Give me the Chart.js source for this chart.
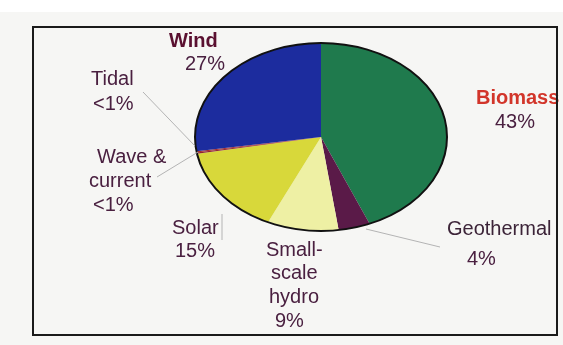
<!DOCTYPE html>
<html>
<head>
<meta charset="utf-8">
<script src="https://cdn.jsdelivr.net/npm/chart.js@4.4.1/dist/chart.umd.min.js"></script>
<style>
  html, body { margin: 0; padding: 0; background: #f6f6f4; }
  #wrap { width: 563px; height: 345px; }
</style>
</head>
<body>
<div id="wrap"><canvas id="pie" width="563" height="345"></canvas></div>
<script>
// Share of renewable sources, clockwise from 12 o'clock
const sources  = ['Biomass', 'Geothermal', 'Small-\nscale\nhydro', 'Solar', 'Wave &\ncurrent', 'Tidal', 'Wind'];
const shares   = [43, 4, 9, 15, 0.2, 0.2, 27];
const shareTxt = ['43%', '4%', '9%', '15%', '<1%', '<1%', '27%'];

const sliceColors = ['#1f7a4d', '#5a1a48', '#eef0a4', '#d8d83a', '#8e2434', '#a83030', '#1c2c9e'];

// where each label block sits (left x, middle y for every line)
const labelSpots = [
  [[476, 98], [495, 122]],
  [[447, 229], [467, 259]],
  [[266, 250], [271, 273], [269, 297], [275, 321]],
  [[172, 228], [175, 251]],
  [[97, 157], [89, 181], [93, 205]],
  [[91, 79], [93, 104]],
  [[169, 41], [185, 64]],
];
const labelColor = ['#d2352a', '#3c2438', '#4a2040', '#4a2040', '#4a2040', '#4a2040', '#5a1030'];
const labelBold  = [true, false, false, false, false, false, true];

// thin grey pointers from labels to the pie
const leaders = [
  [[143, 92], [195, 146]],
  [[157, 177], [198, 152]],
  [[222, 214], [222, 240]],
  [[366, 229], [440, 247]],
];

const X_STRETCH = 126 / 94;

const ellipsePie = {
  id: 'ellipsePie',
  beforeDraw(chart) {
    const ctx = chart.ctx;
    ctx.save();
    ctx.fillStyle = '#f6f6f4';
    ctx.fillRect(0, 0, chart.width, chart.height);
    ctx.fillStyle = '#ffffff';
    ctx.fillRect(0, 0, chart.width, 12);
    ctx.restore();
  },
  beforeDatasetsDraw(chart) {
    const arc = chart.getDatasetMeta(0).data[0];
    const ctx = chart.ctx;
    ctx.save();
    ctx.translate(arc.x, arc.y);
    ctx.scale(X_STRETCH, 1);
    ctx.translate(-arc.x, -arc.y);
  },
  afterDatasetsDraw(chart) {
    const ctx = chart.ctx;
    ctx.restore();
    const arc = chart.getDatasetMeta(0).data[0];
    ctx.save();
    ctx.beginPath();
    ctx.ellipse(arc.x, arc.y, arc.outerRadius * X_STRETCH, arc.outerRadius, 0, 0, Math.PI * 2);
    ctx.lineWidth = 2;
    ctx.strokeStyle = '#111';
    ctx.stroke();
    ctx.restore();
  },
  afterDraw(chart) {
    const ctx = chart.ctx;
    ctx.save();

    ctx.strokeStyle = '#b4b4b4';
    ctx.lineWidth = 1;
    leaders.forEach(([a, b]) => {
      ctx.beginPath();
      ctx.moveTo(a[0], a[1]);
      ctx.lineTo(b[0], b[1]);
      ctx.stroke();
    });

    ctx.textAlign = 'left';
    ctx.textBaseline = 'middle';
    sources.forEach((name, i) => {
      const lines = name.split('\n').concat(shareTxt[i]);
      lines.forEach((txt, j) => {
        const [x, y] = labelSpots[i][j];
        const bold = labelBold[i] && j < lines.length - 1;
        ctx.font = (bold ? 'bold ' : '') + '20px "Liberation Sans", Arial, sans-serif';
        ctx.fillStyle = j < lines.length - 1 ? labelColor[i] : '#4a2040';
        ctx.fillText(txt, x, y);
      });
    });

    // frame
    ctx.strokeStyle = '#1a1a1a';
    ctx.lineWidth = 2;
    ctx.strokeRect(33, 27, 524, 308);
    ctx.restore();
  }
};

new Chart(document.getElementById('pie'), {
  type: 'pie',
  data: {
    labels: sources,
    datasets: [{
      data: shares,
      backgroundColor: sliceColors,
      borderWidth: 0
    }]
  },
  options: {
    responsive: false,
    animation: false,
    layout: { padding: { left: 227, right: 148, top: 43, bottom: 114 } },
    plugins: { legend: { display: false }, tooltip: { enabled: false } }
  },
  plugins: [ellipsePie]
});
</script>
</body>
</html>
